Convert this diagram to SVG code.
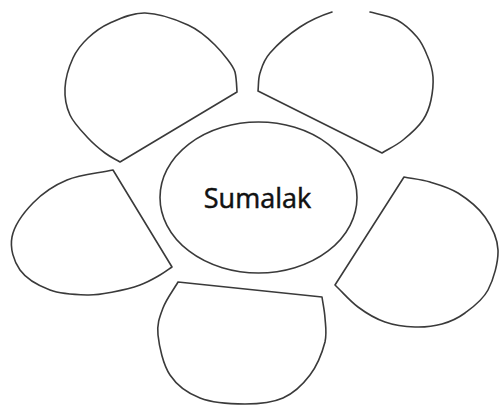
<svg xmlns="http://www.w3.org/2000/svg" width="499" height="406" viewBox="0 0 499 406">
<style>
.p{fill:#fff;stroke:#3a3a3a;stroke-width:1.6;stroke-linejoin:round;stroke-linecap:round}
.t{font-family:"Open Sans","Liberation Sans",sans-serif;font-size:27px;fill:#111;stroke:#111;stroke-width:0.5;text-anchor:middle}
</style>
<rect width="499" height="406" fill="#fff"/>
<g id="petal-top-left">
<path class="p" d="M120,162 L237,92 C236.6,85 236.5,78 235,72 C233.5,66 222.8,52.8 215,45 C207.2,37.2 199.7,30.3 188,25 C176.3,19.7 158,13.3 145,13 C132,12.7 119.5,18.8 110,23 C100.5,27.2 94.2,32.2 88,38 C81.8,43.8 76.8,49.7 73,58 C69.2,66.3 65.5,78.5 65,88 C64.5,97.5 66.2,106.7 70,115 C73.8,123.3 82.2,131.7 88,138 C93.8,144.3 99.7,149 105,153 C110.3,157 115,159 120,162 Z"/>
</g>
<g id="petal-top-right">
<path class="p" d="M332,12 C322,15.2 310.3,20.2 300,27 C289.7,33.8 276.7,45.3 270,53 C263.3,60.7 262,66.7 260,73 C258,79.3 258.7,85 258,91 L382,153 C389,148.7 396.2,145.5 403,140 C409.8,134.5 418.5,126.7 423,120 C427.5,113.3 429.5,107.2 431,100 C432.5,92.8 433.5,84.5 433,77 C432.5,69.5 430,61.7 427,55 C424.3,48.3 422,42.8 417,37 C412,31.2 404.8,24.2 397,20 C389.2,15.8 377.8,14 370,12"/>
</g>
<g id="petal-left">
<path class="p" d="M113,170 L172,267 C168,269.7 165.3,272 160,275 C154.7,278 147.8,282.2 140,285 C132.2,287.8 121.8,290.3 113,292 C104.2,293.7 97.5,295.3 87,295 C76.5,294.7 61.2,294.2 50,290 C38.8,285.8 26.3,278.8 20,270 C13.7,261.2 9.8,248.2 12,237 C14.2,225.8 23.8,212.5 33,203 C42.2,193.5 53.7,185.5 67,180 C80.3,174.5 97.7,173.3 113,170 Z"/>
</g>
<g id="petal-bottom">
<path class="p" d="M178,282 L322,297 C323,304 324.5,310.5 325,318 C325.5,325.5 327,332.5 325,342 C322.5,351.5 317,365.7 310,375 C303,384.3 293.8,393.2 283,398 C272.2,402.8 258.8,404 245,404 C231.2,404 212.5,402.8 200,398 C187.5,393.2 177,385.5 170,375 C163,364.5 159.2,346.2 158,335 C156.8,323.8 159.7,316.8 163,308 C166.3,299.2 173,290.7 178,282 Z"/>
</g>
<g id="petal-right">
<path class="p" d="M404,177 L335,285 C342.7,292.3 349.7,300.8 358,307 C366.3,313.2 375.5,318.7 385,322 C394.5,325.3 405.5,326.7 415,327 C424.5,327.3 433.7,326.3 442,324 C450.3,321.7 457.3,318.7 465,313 C472.7,307.3 482.5,300.5 488,290 C493.5,279.5 498.5,262.2 498,250 C497.5,237.8 491.7,226.5 485,217 C478.3,207.5 467.2,198.8 458,193 C448.8,187.2 439,184.7 430,182 C421,179.3 412.7,178.7 404,177 Z"/>
</g>
<g id="center">
<ellipse class="p" cx="258.5" cy="197.5" rx="98.5" ry="75.5"/>
<text class="t" x="257.5" y="208">Sumalak</text>
</g>
<g id="connectors"></g>
</svg>
